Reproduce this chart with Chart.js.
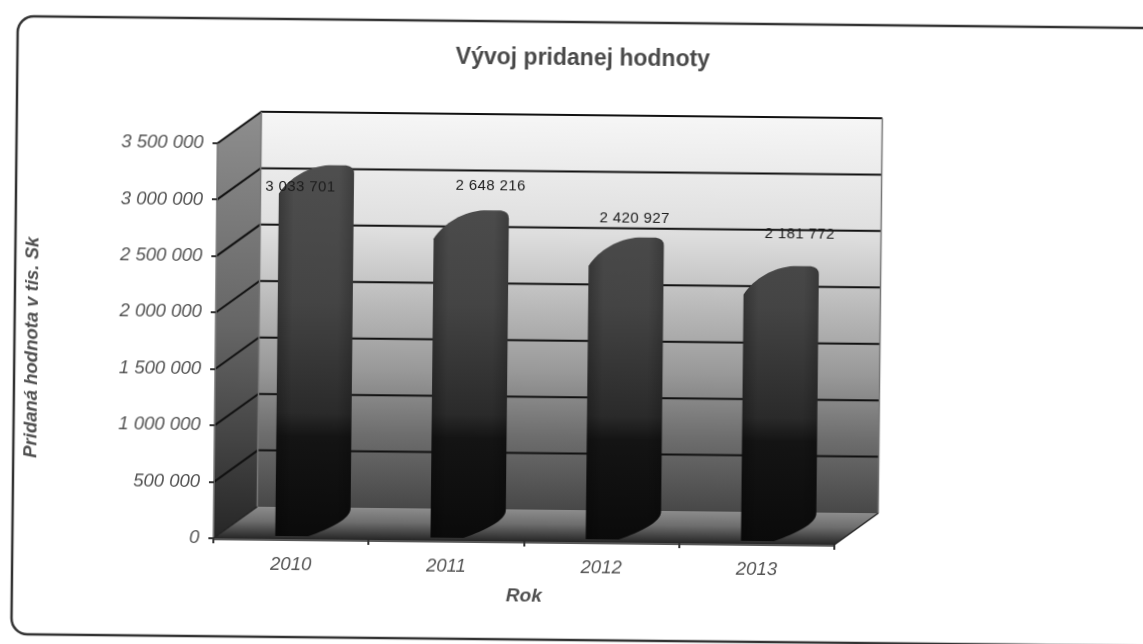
<!DOCTYPE html>
<html>
<head>
<meta charset="utf-8">
<title>Vývoj pridanej hodnoty</title>
<script src="https://cdn.jsdelivr.net/npm/chart.js@4"></script>
<style>
  html, body { margin: 0; padding: 0; width: 1143px; height: 644px; overflow: hidden; background: #fff; }
  /* the reference is a slightly crooked scan */
  #wrap { width: 1170px; height: 670px; transform-origin: 0 0; transform: rotate(0.6deg); filter: blur(0.6px); }
</style>
</head>
<body>
<div id="wrap"><canvas id="chart" width="1170" height="670"></canvas></div>
<script>
var chartTitle = 'Vývoj pridanej hodnoty';
var yTitle = 'Pridaná hodnota v tis. Sk';
var xTitle = 'Rok';
var years = ['2010', '2011', '2012', '2013'];
var addedValue = [3033701, 2648216, 2420927, 2181772];
var valueLabels = ['3 033 701', '2 648 216', '2 420 927', '2 181 772'];
var yMax = 3500000;
var yStep = 500000;

// depth of the fake 3D box, bars sit half way in
var DX = 43.5, DY = -32;
var FONT = '"Liberation Sans", Arial, sans-serif';
// data labels were moved by hand in the original
var labelNudge = [[-16, 6], [19, -40], [8, -35], [18, -48]];

// cylinder look on top of the normal bar geometry
Chart.BarElement.prototype.draw = function (ctx) {
  var hw = this.width / 2;
  var l = this.x + DX / 2 - hw, r = this.x + DX / 2 + hw;
  var ty = this.y + DY / 2, by = this.base + DY / 2;
  ctx.save();
  ctx.beginPath();
  ctx.moveTo(l, ty + 13);
  ctx.bezierCurveTo(l + 10, ty - 3, l + 30, ty - 15, l + 50, ty - 16);
  ctx.lineTo(r - 8, ty - 16);
  ctx.quadraticCurveTo(r, ty - 15, r, ty - 8);
  ctx.lineTo(r, by - 14);
  ctx.bezierCurveTo(r, by - 4, r - 20, by + 6, r - 42, by + 14);
  ctx.lineTo(l, by + 14);
  ctx.closePath();
  ctx.fillStyle = this.options.backgroundColor;
  ctx.fill();
  var side = ctx.createLinearGradient(l, 0, r, 0);
  side.addColorStop(0, 'rgba(0,0,0,0.25)');
  side.addColorStop(0.2, 'rgba(0,0,0,0)');
  side.addColorStop(0.8, 'rgba(0,0,0,0)');
  side.addColorStop(1, 'rgba(0,0,0,0.2)');
  ctx.fillStyle = side;
  ctx.fill();
  ctx.restore();
};

function poly(ctx, pts, fill) {
  ctx.beginPath();
  pts.forEach(function (p, i) {
    if (i === 0) ctx.moveTo(p[0], p[1]); else ctx.lineTo(p[0], p[1]);
  });
  ctx.closePath();
  ctx.fillStyle = fill;
  ctx.fill();
}

function stops(g, list) {
  list.forEach(function (s) { g.addColorStop(s[0], s[1]); });
  return g;
}

var box3d = {
  id: 'box3d',
  beforeDraw: function (chart) {
    var ctx = chart.ctx, a = chart.chartArea;
    var L = a.left, R = a.right, T = a.top, B = a.bottom;
    ctx.save();

    // frame
    ctx.beginPath();
    ctx.roundRect(18, 16, 1300, 618, 16);
    ctx.strokeStyle = '#333';
    ctx.lineWidth = 2.5;
    ctx.stroke();

    // back wall
    var wall = stops(ctx.createLinearGradient(0, T + DY, 0, B + DY), [
      [0, '#f6f6f6'], [0.3, '#dedede'], [0.5, '#b6b6b6'], [0.65, '#999'], [0.82, '#6c6c6c'], [1, '#484848']
    ]);
    poly(ctx, [[L + DX, T + DY], [R + DX, T + DY], [R + DX, B + DY], [L + DX, B + DY]], wall);

    // left wall
    var side = stops(ctx.createLinearGradient(0, T + DY, 0, B), [
      [0, '#8e8e8e'], [0.5, '#666'], [1, '#262626']
    ]);
    poly(ctx, [[L, T], [L + DX, T + DY], [L + DX, B + DY], [L, B]], side);

    // floor
    var floor = stops(ctx.createLinearGradient(0, B + DY, 0, B), [
      [0, '#8c8c8c'], [0.45, '#6e6e6e'], [1, '#262626']
    ]);
    poly(ctx, [[L, B], [L + DX, B + DY], [R + DX, B + DY], [R, B]], floor);

    // grid lines, front edge to back wall and across
    var yScale = chart.scales.y;
    ctx.strokeStyle = '#111';
    ctx.lineWidth = 2;
    yScale.ticks.forEach(function (t) {
      var y = yScale.getPixelForValue(t.value);
      ctx.beginPath();
      if (t.value > 0) {
        ctx.moveTo(L, y);
        ctx.lineTo(L + DX, y + DY);
        ctx.lineTo(R + DX, y + DY);
      }
      ctx.stroke();
    });

    // outline
    ctx.lineWidth = 1.5;
    ctx.strokeStyle = '#777';
    ctx.beginPath();
    ctx.moveTo(L, T); ctx.lineTo(L, B);
    ctx.moveTo(L + DX, T + DY); ctx.lineTo(L + DX, B + DY);
    ctx.moveTo(R + DX, T + DY); ctx.lineTo(R + DX, B + DY);
    ctx.stroke();
    ctx.strokeStyle = '#222';
    ctx.beginPath();
    ctx.moveTo(L, B); ctx.lineTo(L + DX, B + DY);
    ctx.moveTo(R, B); ctx.lineTo(R + DX, B + DY);
    ctx.moveTo(L, B + 1); ctx.lineTo(R, B + 1);
    ctx.stroke();
    ctx.restore();
  },
  afterDatasetsDraw: function (chart) {
    var ctx = chart.ctx;
    ctx.save();
    ctx.textAlign = 'center';
    ctx.textBaseline = 'middle';

    // data labels
    ctx.font = '15px ' + FONT;
    ctx.fillStyle = '#1c1c1c';
    ctx.letterSpacing = '0.4px';
    chart.getDatasetMeta(0).data.forEach(function (bar, i) {
      ctx.fillText(valueLabels[i], bar.x + DX / 2 + labelNudge[i][0], bar.y + DY / 2 + labelNudge[i][1]);
    });
    ctx.letterSpacing = '0px';

    // titles
    ctx.font = 'bold 23px ' + FONT;
    ctx.fillStyle = '#4a4a4a';
    ctx.fillText(chartTitle, 583.5, 53);
    ctx.font = 'italic bold 19px ' + FONT;
    ctx.fillStyle = '#4f4f4f';
    ctx.fillText(xTitle, 530, 590.5);
    ctx.font = 'italic bold 18.5px ' + FONT;
    ctx.translate(35.5, 347);
    ctx.rotate(-Math.PI / 2);
    ctx.fillText(yTitle, 0, 0);
    ctx.restore();
  }
};

new Chart(document.getElementById('chart').getContext('2d'), {
  type: 'bar',
  data: {
    labels: years,
    datasets: [{
      label: 'Pridaná hodnota',
      data: addedValue,
      categoryPercentage: 0.483,
      barPercentage: 1,
      backgroundColor: function (c) {
        var g = c.chart.ctx.createLinearGradient(0, 141, 0, 536);
        g.addColorStop(0, '#505050');
        g.addColorStop(0.4, '#444');
        g.addColorStop(0.68, '#2a2a2a');
        g.addColorStop(0.74, '#141414');
        g.addColorStop(1, '#0a0a0a');
        return g;
      }
    }]
  },
  options: {
    responsive: false,
    animation: false,
    layout: { padding: { left: 0, top: 141, right: 330, bottom: 0 } },
    plugins: { legend: { display: false }, title: { display: false }, tooltip: { enabled: false } },
    scales: {
      x: {
        afterFit: function (s) { s.height = 134; },
        border: { display: false },
        grid: { drawOnChartArea: false, tickLength: 5, color: '#333', lineWidth: 2 },
        ticks: {
          padding: 10, maxRotation: 0, autoSkip: false, color: '#555',
          font: { family: FONT, size: 18.5, style: 'italic' }
        }
      },
      y: {
        min: 0,
        max: yMax,
        afterFit: function (s) { s.width = 219; },
        border: { display: false },
        grid: { drawOnChartArea: false, tickLength: 5, color: '#333', lineWidth: 2 },
        ticks: {
          stepSize: yStep, padding: 9, color: '#555',
          font: { family: FONT, size: 18.5, style: 'italic' },
          callback: function (v) { return String(v).replace(/\B(?=(\d{3})+$)/g, ' '); }
        }
      }
    }
  },
  plugins: [box3d]
});
</script>
</body>
</html>
